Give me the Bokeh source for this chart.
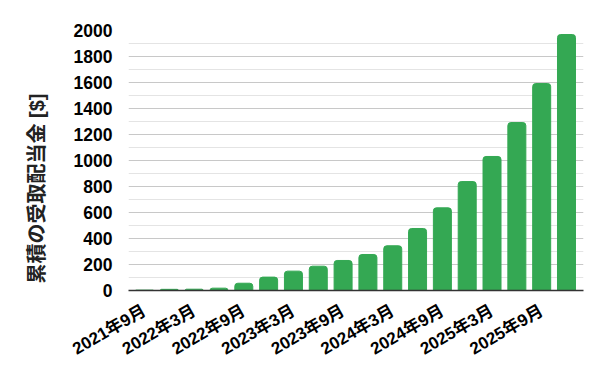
import math
from bokeh.plotting import figure
from bokeh.models import FixedTicker, Range1d, Title, ColumnDataSource
from bokeh.embed import file_html
from bokeh.resources import INLINE

periods = ["2021年9月", "2021年12月", "2022年3月", "2022年6月", "2022年9月", "2022年12月",
           "2023年3月", "2023年6月", "2023年9月", "2023年12月", "2024年3月", "2024年6月",
           "2024年9月", "2024年12月", "2025年3月", "2025年6月", "2025年9月", "2025年12月"]
dividends = [3, 9, 10, 18, 56, 103, 149, 187, 231, 277, 344, 477, 636, 838, 1031, 1292, 1592, 1969]
y_ticks = [0, 200, 400, 600, 800, 1000, 1200, 1400, 1600, 1800, 2000]
y_title = "累積の受取配当金 [$]"

FONT = "'Liberation Sans', 'Noto Sans CJK JP', sans-serif"

idx = list(range(len(periods)))
src = ColumnDataSource(dict(x=idx, top=dividends))

p = figure(width=600, height=371, frame_width=455, frame_height=260,
           min_border_left=127, min_border_right=18, min_border_top=30, min_border_bottom=81,
           output_backend="svg", toolbar_location=None,
           x_range=Range1d(-0.645, len(periods) - 1 + 0.685), y_range=Range1d(0, 2000))

p.vbar(x="x", top="top", width=0.725, source=src, color="#34a853",
       border_radius=(3, 3, 0, 0))

p.outline_line_color = None
p.background_fill_color = "white"
p.border_fill_color = "white"

# Y axis
p.yaxis.ticker = FixedTicker(ticks=y_ticks, minor_ticks=list(range(100, 2000, 200)))
p.yaxis.axis_line_color = None
p.yaxis.major_tick_line_color = None
p.yaxis.minor_tick_line_color = None
p.yaxis.major_tick_out = 0
p.yaxis.major_label_standoff = 12
p.yaxis.major_label_text_font = FONT
p.yaxis.major_label_text_font_style = "bold"
p.yaxis.major_label_text_font_size = "17.5px"
p.yaxis.major_label_text_color = "#000000"

p.ygrid.grid_line_color = "#c8c8c8"
p.ygrid.minor_grid_line_color = "#e4e4e4"
p.xgrid.grid_line_color = None

# X axis
p.xaxis.ticker = FixedTicker(ticks=idx[::2])
p.xaxis.major_label_overrides = {i: periods[i] for i in idx[::2]}
p.xaxis.major_label_orientation = math.pi / 6
p.xaxis.axis_line_color = "#333333"
p.xaxis.axis_line_width = 1.5
p.xaxis.major_tick_line_color = None
p.xaxis.minor_tick_line_color = None
p.xaxis.major_tick_out = 0
p.xaxis.major_label_standoff = 19
p.xaxis.major_label_text_font = FONT
p.xaxis.major_label_text_font_style = "bold"
p.xaxis.major_label_text_font_size = "17px"
p.xaxis.major_label_text_color = "#000000"

# Y title, placed lower than the frame centre as in the reference
title = Title(text=y_title, align="left", offset=7, standoff=46,
              text_font=FONT, text_font_style="bold",
              text_font_size="20px", text_color="#222222")
p.add_layout(title, "left")

open("out.html", "w").write(file_html(p, INLINE))
